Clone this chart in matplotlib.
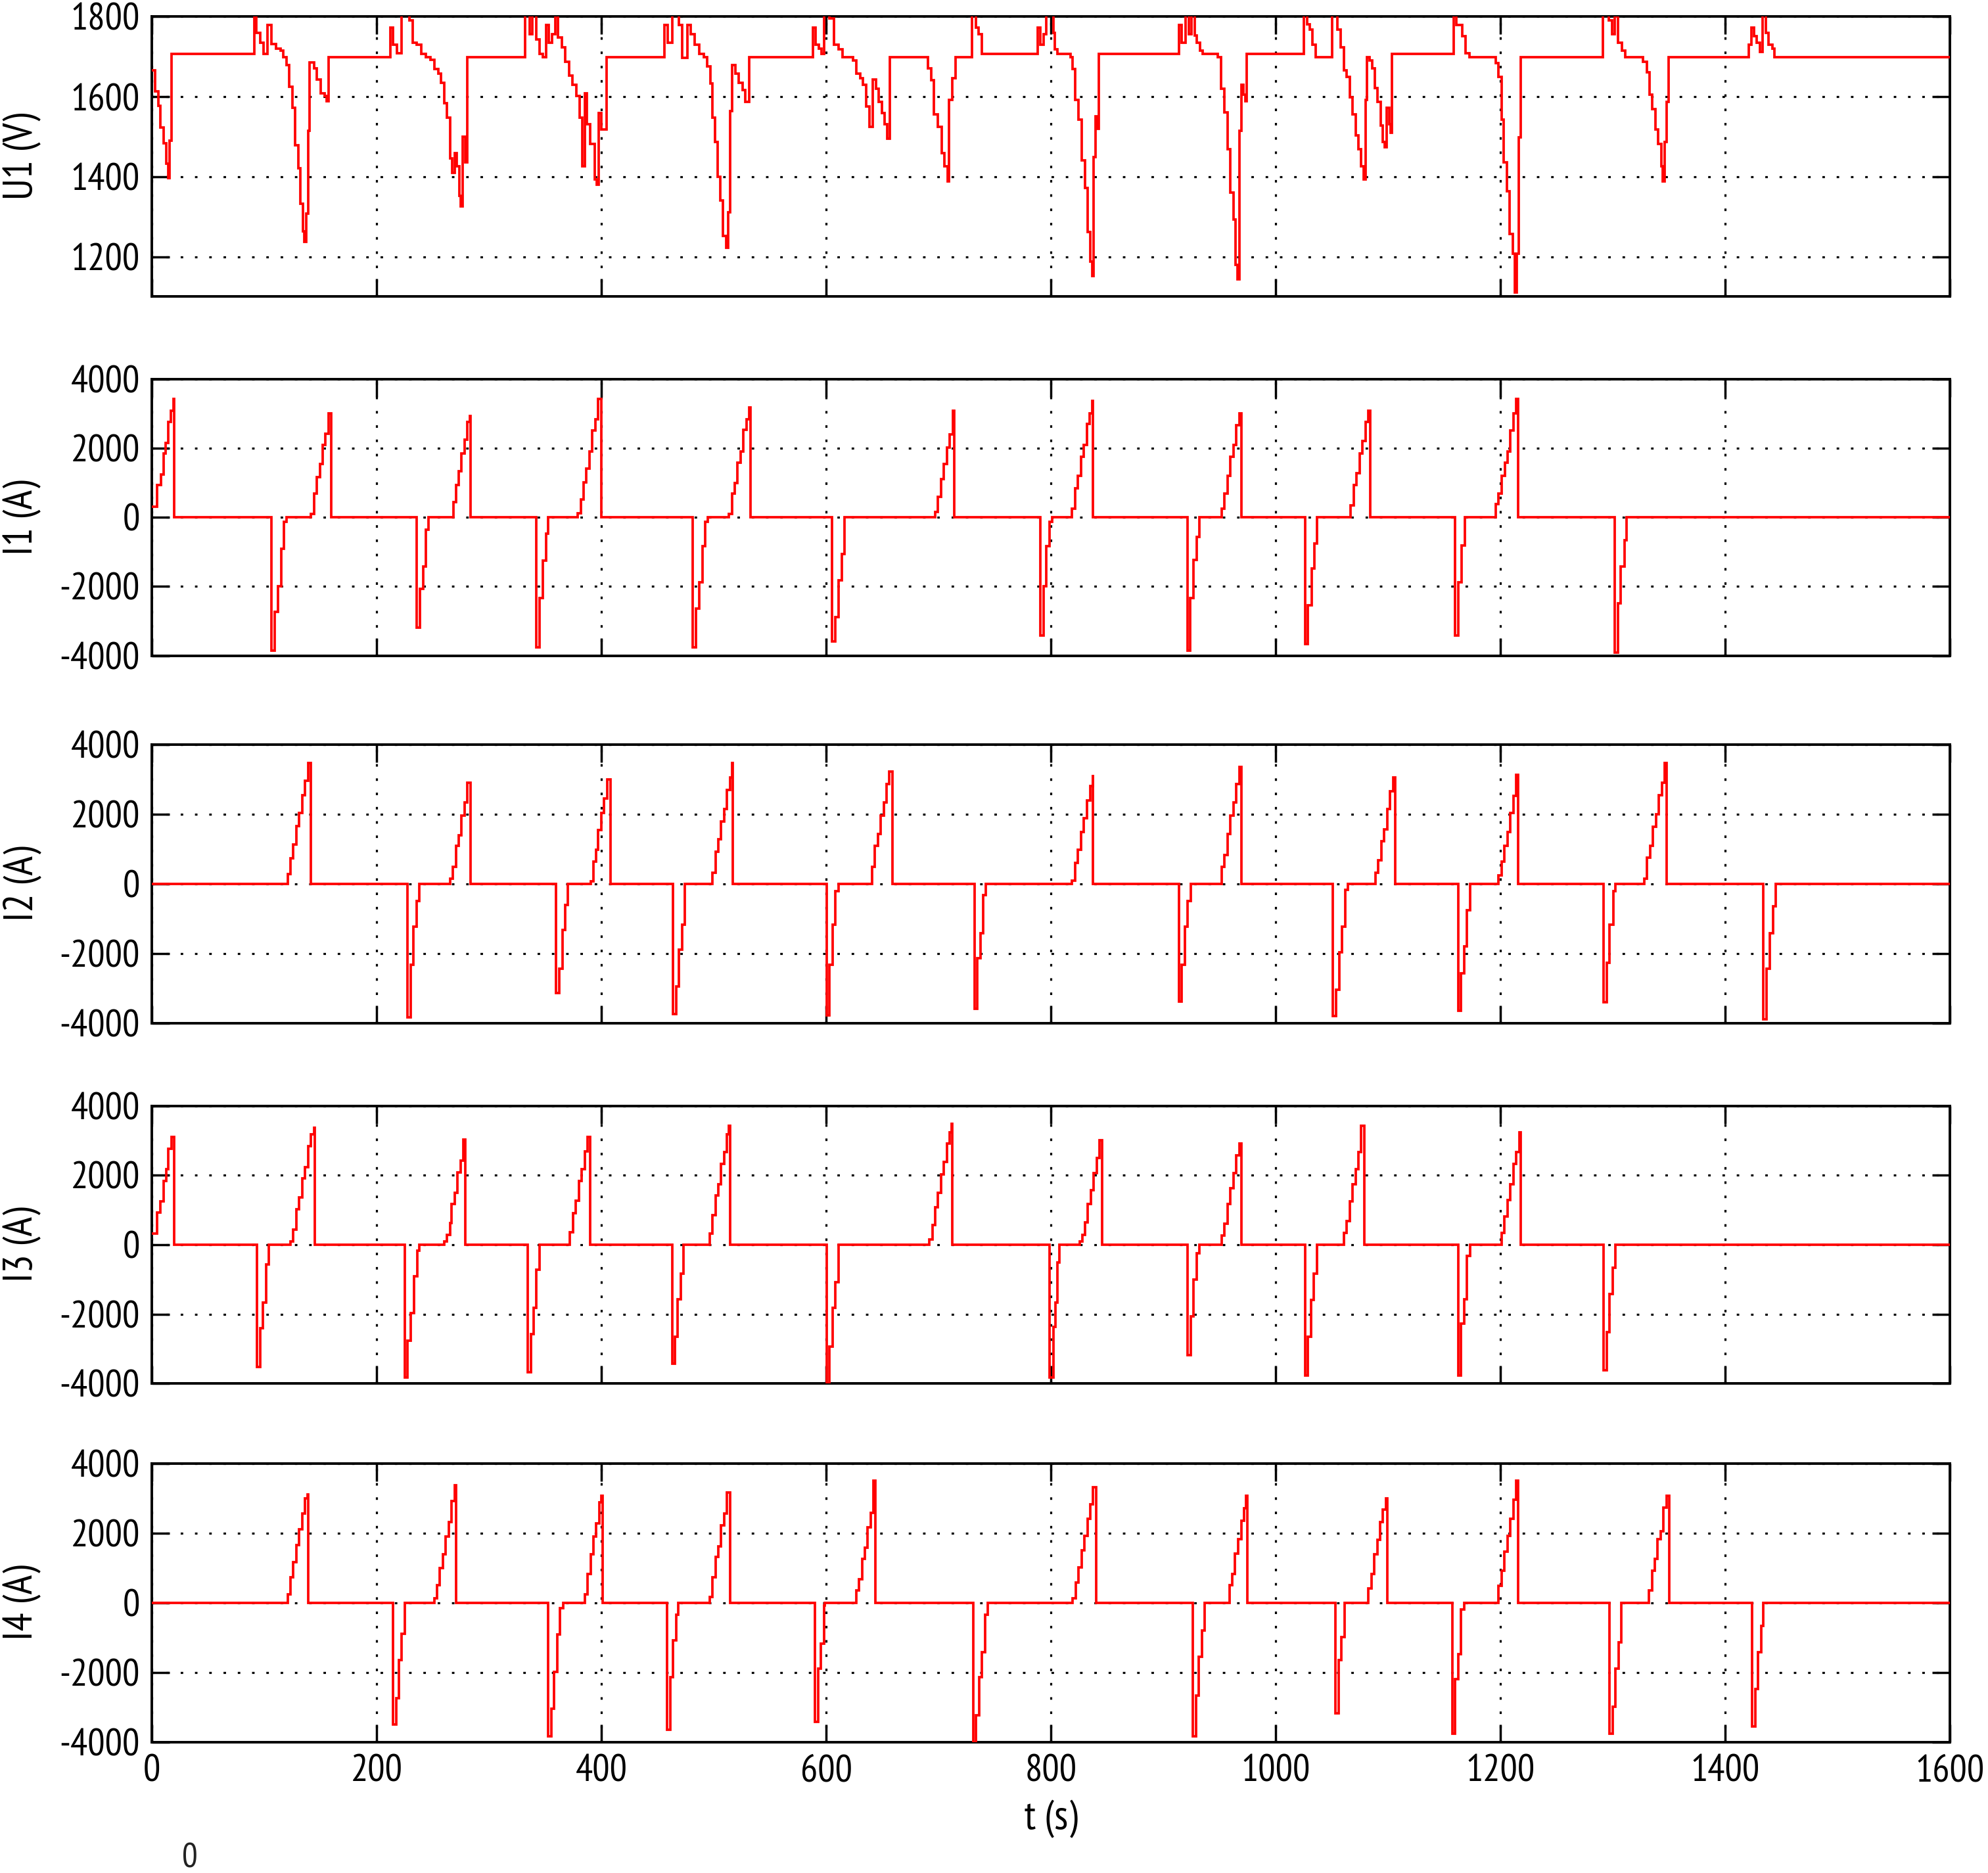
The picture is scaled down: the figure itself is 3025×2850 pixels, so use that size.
#!/usr/bin/env python3
"""
Substation voltage U1 and feeder currents I1..I4 vs time, MATLAB-like stacked plot.
Traces are step signals (breakpoints read off the original figure), drawn steps-post.
"""
import matplotlib
matplotlib.use("Agg")
import matplotlib.pyplot as plt
from matplotlib import font_manager

# ---------------- data ----------------

X_TICKS = [0, 200, 400, 600, 800, 1000, 1200, 1400, 1600]
U1_TICKS = [1200, 1400, 1600, 1800]
I_TICKS = [-4000, -2000, 0, 2000, 4000]
U1_LIM = (1100, 1800)
I_LIM = (-4000, 4000)
T_END = 1600

# U1 (V): (t, value) breakpoints, value holds until next t
U1_PTS = [
    (0, 1665), (2.9, 1613), (5.5, 1577), (7.5, 1522), (10.2, 1484), (12.8, 1432),
    (14.3, 1396), (15.9, 1490), (17.5, 1707),
    (91, 1815), (93.1, 1759), (96.2, 1735), (99.3, 1707), (103, 1778), (106.1, 1731),
    (110.3, 1720), (114.5, 1715), (117.1, 1698), (119.7, 1679), (122.3, 1624),
    (124.9, 1572), (127.5, 1479), (130.1, 1421), (132.2, 1333), (134.3, 1264),
    (135.8, 1237), (137.4, 1308), (139, 1514), (140.5, 1685), (144.2, 1671),
    (146.8, 1643), (150.4, 1608), (153.6, 1602), (155.6, 1588), (157.2, 1698),
    (212, 1773), (214.6, 1729), (218.2, 1709), (221.9, 1815), (229.2, 1790),
    (231.8, 1734), (235.4, 1729), (239.6, 1707), (243.8, 1698), (248, 1692),
    (251.6, 1668), (254.7, 1657), (257.3, 1635), (259.9, 1583), (262.6, 1547),
    (265.2, 1446), (267.3, 1410), (269.3, 1459), (271.4, 1426), (273.5, 1352),
    (275, 1325), (276.6, 1500), (278.7, 1436), (280.8, 1698),
    (332, 1815), (336.1, 1756), (338.7, 1815), (341.8, 1742), (345, 1707),
    (348.1, 1698), (350.7, 1778), (353.3, 1734), (355.9, 1756), (359, 1815),
    (361.6, 1748), (364.8, 1723), (367.9, 1687), (371, 1652), (374.2, 1630),
    (377.8, 1602), (380.4, 1547), (383, 1426), (385.1, 1608), (387.2, 1531),
    (389.8, 1481), (394, 1393), (396.1, 1380), (397.6, 1558), (400.2, 1517),
    (404.4, 1698),
    (456, 1778), (459.2, 1734), (462.8, 1815), (469.1, 1778), (471.7, 1696),
    (476.4, 1778), (479.5, 1756), (483.2, 1729), (486.8, 1707), (491, 1698),
    (494.1, 1676), (496.7, 1632), (498.8, 1547), (500.9, 1487), (503.5, 1399),
    (505.6, 1341), (508.2, 1251), (510.8, 1223), (512.9, 1311), (514.4, 1564),
    (516.5, 1679), (519.1, 1657), (522.3, 1635), (525.4, 1616), (528, 1586),
    (531.6, 1698),
    (588.5, 1773), (590.6, 1729), (593.2, 1720), (595.8, 1707), (598.4, 1815),
    (602.6, 1795), (606.8, 1729), (610.9, 1718), (614.6, 1698), (624, 1690),
    (627.1, 1657), (630.2, 1646), (632.8, 1630), (635.4, 1575), (638.6, 1525),
    (641.7, 1643), (644.3, 1619), (646.9, 1586), (649.5, 1558), (652.1, 1531),
    (654.2, 1495), (656.8, 1698),
    (690.7, 1671), (693.3, 1641), (695.9, 1555), (699.6, 1525), (702.7, 1459),
    (705.3, 1426), (707.9, 1388), (709.5, 1592), (712.1, 1646), (715.2, 1698),
    (730, 1815), (733, 1773), (735.6, 1756), (738.7, 1707),
    (788.2, 1773), (790.8, 1729), (793.4, 1756), (796, 1815), (802, 1759),
    (803.6, 1718), (805.7, 1707), (817.2, 1698), (819.3, 1668), (821.4, 1591),
    (824.5, 1542), (827.1, 1440), (830.3, 1371), (832.9, 1262), (835, 1187),
    (836.5, 1152), (838.1, 1448), (839.7, 1550), (841.2, 1520), (842.3, 1707),
    (913.8, 1778), (916.4, 1734), (919.6, 1815), (922.7, 1756), (925.3, 1815),
    (927.9, 1753), (930, 1734), (932.6, 1715), (935.2, 1707), (948.3, 1698),
    (951.4, 1619), (954.5, 1561), (957.2, 1468), (959.8, 1360), (962.4, 1292),
    (964.5, 1179), (966, 1143), (967.6, 1514), (969.2, 1630), (971.3, 1605),
    (972.8, 1588), (974.4, 1707),
    (1025, 1815), (1027.7, 1781), (1030.3, 1767), (1032.9, 1729), (1035.5, 1698),
    (1050.1, 1815), (1054.8, 1767), (1058, 1723), (1060.6, 1665), (1063.2, 1649),
    (1065.8, 1599), (1068.4, 1555), (1071, 1503), (1073.6, 1468), (1076.2, 1426),
    (1078.3, 1393), (1079.9, 1591), (1081.4, 1698), (1083.5, 1690), (1085.6, 1671),
    (1088.2, 1621), (1090.8, 1586), (1093.5, 1528), (1095, 1487), (1097.1, 1473),
    (1098.7, 1572), (1100.8, 1531), (1102.3, 1509), (1103.4, 1707),
    (1158.2, 1815), (1160.8, 1778), (1166, 1751), (1168.7, 1709), (1172.3, 1698),
    (1195.8, 1684), (1198.4, 1649), (1201, 1542), (1203.1, 1435), (1205.7, 1363),
    (1208.3, 1256), (1211, 1207), (1212.5, 1110), (1214.6, 1207), (1216.2, 1498),
    (1218.3, 1698),
    (1291.4, 1815), (1296.6, 1790), (1299.2, 1756), (1301.8, 1800), (1304.4, 1734),
    (1308.1, 1715), (1311.2, 1698), (1326.9, 1687), (1330, 1660), (1332.6, 1605),
    (1335.2, 1569), (1337.8, 1517), (1340.4, 1481), (1343, 1426), (1344.6, 1388),
    (1346.2, 1487), (1347.8, 1586), (1349.8, 1698),
    (1420.9, 1729), (1423.5, 1773), (1425.6, 1751), (1428.2, 1734), (1430.8, 1712),
    (1433.4, 1815), (1436, 1759), (1438.6, 1729), (1441.8, 1720), (1443.8, 1698),
    (T_END, 1698),
]

# I1 (A)
I1_PTS = [
    (0, 317), (4.9, 927), (8.1, 1232), (10.2, 1842), (12.2, 2147), (14.8, 2757), (16.9, 3087), (19.5, 3428), (20.1, 0),
    (106.1, -3855), (109.2, -2733), (112.4, -2000), (115, -903), (117.6, -134), (119.7, 0),
    (141.6, 100), (144.2, 683), (146.8, 1171), (149.4, 1537), (152, 2086), (154.6, 2416), (157.2, 3000), (159.8, 0),
    (235.4, -3196), (238.6, -2062), (241.7, -1415), (243.8, -354), (245.9, 0),
    (268.3, 440), (270.4, 927), (273, 1330), (275.6, 1842), (278.2, 2245), (280.8, 2757), (282.9, 2940), (283.4, 0),
    (342.3, -3770), (345, -2342), (348, -1244), (350.7, -476), (352.8, 0),
    (378.9, 110), (381.5, 525), (384.1, 1013), (386.7, 1415), (389.3, 1903), (391.9, 2513), (394.5, 2843), (397.1, 3428), (399.7, 0),
    (481, -3770), (484.2, -2635), (487.3, -1879), (489.9, -842), (492.5, -134), (494.6, 0),
    (513.4, 100), (516, 683), (518.6, 988), (521.2, 1574), (523.8, 1903), (526.4, 2538), (529, 2843), (531.6, 3184), (532.7, 0),
    (605.2, -3600), (608.3, -2890), (611, -1818), (614, -1061), (616.1, 0),
    (697, 160), (699.6, 598), (702.2, 1110), (704.8, 1537), (707.4, 2025), (710, 2391), (712.6, 3087), (714.2, 0),
    (790.3, -3428), (793.5, -2000), (796, -842), (798.7, -134), (801.3, 0),
    (818.8, 256), (821.4, 842), (824, 1196), (826.6, 1757), (829.2, 2086), (831.8, 2696), (834.4, 3000), (836.6, 3367), (837.6, 0),
    (921.6, -3855), (923.7, -2330), (926.9, -1232), (929.5, -573), (932.1, 0),
    (952, 256), (954.5, 683), (957.2, 1196), (959.8, 1757), (962.4, 2086), (965, 2672), (967.6, 3000), (969.7, 0),
    (1026.1, -3672), (1028.7, -2550), (1031.8, -1489), (1034.4, -756), (1036.5, 0),
    (1066.8, 354), (1069.4, 927), (1072, 1269), (1074.7, 1842), (1077.3, 2208), (1079.9, 2757), (1082.5, 3087), (1084, 0),
    (1159.8, -3428), (1162.4, -1879), (1165.5, -817), (1168.1, 0),
    (1195.8, 378), (1198.4, 683), (1201, 1196), (1203.7, 1574), (1206.3, 1903), (1208.9, 2513), (1211.5, 3000), (1214.1, 3428), (1215.6, 0),
    (1301.8, -3916), (1304.4, -2489), (1307, -1415), (1310.2, -659), (1312.3, 0),
    (T_END, 0),
]

# I2 (A)
I2_PTS = [
    (0, 0),
    (120.7, 277), (123.3, 735), (125.9, 1120), (128.5, 1663), (131.1, 2024), (133.7, 2543), (136.4, 2964), (139, 3470), (141.6, 0),
    (227.6, -3820), (230.2, -2314), (232.8, -1229), (235.4, -482), (238, 0),
    (265.7, 157), (267.8, 482), (270.4, 1085), (273, 1398), (275.6, 1964), (278.2, 2326), (280.8, 2892), (283.4, 0),
    (359.6, -3133), (362.7, -2434), (365.3, -1325), (367.9, -602), (370, 0),
    (390.3, 80), (392.9, 639), (395, 976), (397.1, 1542), (399.7, 2024), (402.3, 2446), (405.4, 2990), (408, 0),
    (463.9, -3723), (466.5, -2940), (469.1, -1892), (471.7, -1169), (474.3, 0),
    (498.8, 313), (501.4, 916), (504, 1277), (506.6, 1783), (509.2, 2145), (511.8, 2687), (514.4, 3049), (516.5, 3470), (517, 0),
    (600.5, -3760), (603.1, -2314), (605.7, -1169), (608.3, -205), (610.9, 0),
    (640.6, 482), (643.3, 1085), (645.9, 1422), (648.5, 1964), (651.1, 2326), (653.7, 2868), (656.3, 3229), (658.9, 0),
    (731.9, -3579), (734.5, -2133), (737.1, -1410), (739.7, -325), (742.3, 0),
    (818.8, 96), (821.4, 602), (824, 976), (826.6, 1482), (829.2, 1880), (831.8, 2386), (835, 2808), (837.1, 3133), (837.6, 0),
    (913.8, -3374), (916.4, -2314), (919, -1229), (921.6, -482), (924.3, 0),
    (952, 482), (954.5, 819), (957.2, 1422), (959.8, 1964), (962.4, 2326), (965, 2868), (967.6, 3350), (969.7, 0),
    (1050.6, -3784), (1053.8, -3037), (1056.4, -1952), (1059, -1229), (1061.6, -169), (1064.2, 0),
    (1088.8, 313), (1091.4, 675), (1094, 1217), (1096.6, 1567), (1099.2, 2145), (1101.8, 2651), (1104.4, 3049), (1106.5, 0),
    (1162.4, -3639), (1165, -2555), (1167.6, -1795), (1170.2, -747), (1172.8, 0),
    (1198.4, 241), (1201, 639), (1203.6, 1085), (1206.3, 1482), (1208.9, 2024), (1211.5, 2530), (1214.1, 3133), (1215.6, 0),
    (1291.9, -3398), (1294.5, -2253), (1297.1, -1169), (1300.2, -205), (1302.3, 0),
    (1327.9, 157), (1330.5, 759), (1333.1, 1085), (1335.7, 1639), (1338.4, 2000), (1341, 2543), (1343.6, 2892), (1346.2, 3470), (1347.8, 0),
    (1434, -3880), (1436.5, -2434), (1439.7, -1410), (1442.3, -651), (1444.9, 0),
    (T_END, 0),
]

# I3 (A)
I3_PTS = [
    (0, 317), (4.9, 927), (7.5, 1257), (10.2, 1842), (12.8, 2184), (14.8, 2757), (17.5, 3100), (20, 0),
    (93.6, -3526), (96.2, -2403), (98.8, -1659), (101.4, -573), (104, 0),
    (123.3, 100), (125.9, 439), (128.5, 1013), (131.1, 1354), (133.7, 1903), (136.4, 2233), (139, 2843), (141.6, 3184), (144.2, 3367), (144.7, 0),
    (225, -3830), (227.6, -2757), (230.2, -1976), (233.3, -903), (236, -171), (238, 0),
    (260, 100), (262.6, 280), (265.2, 622), (266.7, 1171), (269.3, 1500), (271.9, 2086), (274.6, 2428), (277.2, 3025), (278.7, 0),
    (334.5, -3672), (337.1, -2574), (339.8, -1818), (342.3, -720), (345, 0),
    (372.1, 354), (374.7, 903), (377.3, 1269), (379.9, 1842), (382.5, 2184), (385.1, 2696), (387.7, 3100), (389.8, 0),
    (462.8, -3428), (465.4, -2647), (468, -1574), (470.6, -842), (473.2, 0),
    (496.2, 317), (498.8, 842), (501.4, 1415), (504, 1745), (506.6, 2330), (509.2, 2672), (511.8, 3184), (513.4, 3428), (514.4, 0),
    (600.5, -3990), (603.1, -2940), (605.7, -1818), (608.3, -1086), (610.9, 0),
    (691.8, 160), (694.4, 561), (697, 1086), (699.6, 1500), (702.2, 2025), (704.8, 2391), (707.4, 2916), (710, 3245), (711.6, 3489), (712, 0),
    (798.7, -3830), (802, -2370), (804.2, -1671), (805.7, -512), (807.3, 0),
    (825.6, 100), (827.7, 280), (830.3, 647), (832.9, 1171), (835.5, 1574), (838.1, 2062), (840.7, 2489), (843.3, 3000), (845.4, 0),
    (921.6, -3184), (924.3, -2062), (926.9, -1000), (929.5, -256), (932.1, 0),
    (952, 256), (954.5, 598), (957.2, 1171), (959.8, 1623), (962.4, 2062), (965, 2574), (967.6, 2916), (969.2, 0),
    (1026.1, -3770), (1028.7, -2647), (1031.3, -1598), (1033.9, -842), (1036.5, 0),
    (1060.6, 342), (1063.2, 683), (1065.8, 1257), (1068.4, 1745), (1071, 2172), (1073.6, 2672), (1076.2, 3428), (1078.8, 0),
    (1162.4, -3770), (1165, -2270), (1167.6, -1574), (1170.2, -329), (1172.8, 0),
    (1201, 342), (1203.6, 805), (1206.3, 1293), (1208.9, 1745), (1211.5, 2330), (1214.1, 2672), (1216.7, 3245), (1218.3, 0),
    (1291.9, -3611), (1294.5, -2513), (1297.1, -1415), (1299.7, -659), (1302.3, 0),
    (T_END, 0),
]

# I4 (A)
I4_PTS = [
    (0, 0),
    (120.7, 254), (123.3, 738), (125.9, 1174), (128.5, 1658), (131.1, 2105), (133.7, 2565), (136.4, 2989), (138.5, 3100), (139, 0),
    (214.6, -3485), (217.2, -2735), (219.8, -1646), (222.4, -883), (225, 0),
    (251.1, 133), (253.7, 508), (256.3, 992), (258.9, 1404), (261.5, 1900), (264.1, 2323), (266.7, 2916), (269.3, 3376), (270.9, 0),
    (352.8, -3824), (355.4, -3037), (358, -1972), (360.6, -895), (363.2, -157), (365.8, 0),
    (385.1, 254), (387.7, 835), (390.3, 1404), (392.9, 1900), (395.5, 2287), (398.1, 2892), (399.7, 3073), (400.8, 0),
    (458.6, -3642), (461.2, -2130), (463.8, -1077), (466.5, -339), (468.6, 0),
    (496.2, 169), (498.8, 738), (501.4, 1319), (504, 1621), (506.6, 2226), (509.2, 2565), (511.8, 3158), (514.4, 0),
    (590.1, -3400), (592.7, -1888), (595.3, -1162), (597.9, -73), (599, 0),
    (626.6, 350), (629.2, 678), (631.8, 1258), (634.4, 1585), (637, 2166), (639.6, 2589), (642.2, 3497), (643.8, 0),
    (730.9, -3990), (733.5, -3219), (736.1, -2130), (738.7, -1404), (741.3, -339), (743.9, 0),
    (819.3, 133), (821.9, 593), (824.5, 1016), (827.1, 1500), (829.7, 1924), (832.4, 2408), (835, 2831), (837.6, 3315), (840.2, 0),
    (926.3, -3824), (929, -2650), (931.6, -1549), (934.2, -799), (936.8, 0),
    (958.7, 508), (961.3, 835), (963.9, 1416), (966.6, 1827), (969.2, 2347), (971.8, 2710), (973.4, 3073), (974.9, 0),
    (1053.2, -3158), (1055.9, -1646), (1058.5, -980), (1061.1, 0),
    (1082.5, 411), (1085.1, 835), (1087.7, 1404), (1090.3, 1803), (1092.9, 2323), (1095.5, 2674), (1098.2, 2989), (1099.2, 0),
    (1157.2, -3739), (1159.8, -2190), (1162.4, -1464), (1165, -194), (1167.6, 0),
    (1198.4, 496), (1201, 920), (1203.6, 1476), (1206.3, 1924), (1208.9, 2408), (1211.5, 2952), (1214.1, 3497), (1215.6, 0),
    (1297.1, -3739), (1299.7, -2977), (1302.3, -1888), (1304.9, -1137), (1307.5, 0),
    (1332.1, 350), (1334.7, 920), (1337.3, 1258), (1339.9, 1827), (1342.5, 2045), (1345.2, 2735), (1347.8, 3073), (1350.4, 0),
    (1424, -3545), (1426.6, -2468), (1429.2, -1404), (1431.8, -653), (1433.9, 0),
    (T_END, 0),
]

PANELS = [
    ("U1 (V)", U1_PTS, U1_LIM, U1_TICKS),
    ("I1 (A)", I1_PTS, I_LIM, I_TICKS),
    ("I2 (A)", I2_PTS, I_LIM, I_TICKS),
    ("I3 (A)", I3_PTS, I_LIM, I_TICKS),
    ("I4 (A)", I4_PTS, I_LIM, I_TICKS),
]

# ---------------- layout / style ----------------

W_PX, H_PX, DPI = 3025, 2850, 100
AX_LEFT, AX_WIDTH = 0.0764, 0.9045
# (bottom, height) in figure fractions, top panel first
AX_ROWS = [(0.8416, 0.1496), (0.6500, 0.1476), (0.4536, 0.1490),
           (0.2613, 0.1483), (0.0697, 0.1490)]

RED = "#ff0000"

# MATLAB's screen font is a narrow Helvetica; take the first narrow family found
NARROW_CHOICES = ["Liberation Sans Narrow", "Arial Narrow", "PT Sans Narrow",
                  "Archivo Narrow", "Roboto Condensed", "Fira Sans Condensed"]
installed = {f.name for f in font_manager.fontManager.ttflist}
narrow = [n for n in NARROW_CHOICES if n in installed]
if narrow:
    FONT = narrow[0]
    TICK_FS, LABEL_FS, STRAY_FS = 42, 45, 38
else:
    FONT = "Liberation Sans"
    TICK_FS, LABEL_FS, STRAY_FS = 34, 37, 33

plt.rcParams["font.family"] = [FONT, "DejaVu Sans"]
plt.rcParams["axes.unicode_minus"] = False


def draw_panel(ax, pts, ylim, yticks, label, show_x):
    t = [p[0] for p in pts]
    v = [p[1] for p in pts]
    ax.plot(t, v, drawstyle="steps-post", color=RED, lw=2.7,
            solid_joinstyle="miter", solid_capstyle="butt", zorder=3)

    ax.set_xlim(0, T_END)
    ax.set_ylim(*ylim)
    ax.set_xticks(X_TICKS)
    ax.set_yticks(yticks)
    ax.set_axisbelow(True)
    ax.grid(True, color="black", linestyle=(0, (1.2, 5.6)), linewidth=2.3)

    for s in ax.spines.values():
        s.set_linewidth(2.8)
    ax.tick_params(direction="in", length=19.5, width=2.5, top=True, right=True,
                   labelsize=TICK_FS, labelbottom=show_x)
    ax.tick_params(axis="y", pad=13)
    ax.tick_params(axis="x", pad=13)

    ax.set_ylabel(label, fontsize=LABEL_FS)
    ax.yaxis.set_label_coords(-0.0613, 0.5)


def main():
    fig = plt.figure(figsize=(W_PX / DPI, H_PX / DPI), dpi=DPI)
    n = len(PANELS)
    for i, ((label, pts, ylim, yticks), (bottom, height)) in enumerate(zip(PANELS, AX_ROWS)):
        ax = fig.add_axes([AX_LEFT, bottom, AX_WIDTH, height])
        draw_panel(ax, pts, ylim, yticks, label, show_x=(i == n - 1))
        if i == n - 1:
            ax.set_xlabel("t (s)", fontsize=LABEL_FS)
            ax.xaxis.set_label_coords(0.5, -0.205)

    # stray axis label left over in the original export
    fig.text(0.0955, 0.0075, "0", fontsize=STRAY_FS, color="#222222", ha="center", va="center")

    fig.savefig("out.png", dpi=DPI, facecolor="white")
    plt.close(fig)


if __name__ == "__main__":
    main()
